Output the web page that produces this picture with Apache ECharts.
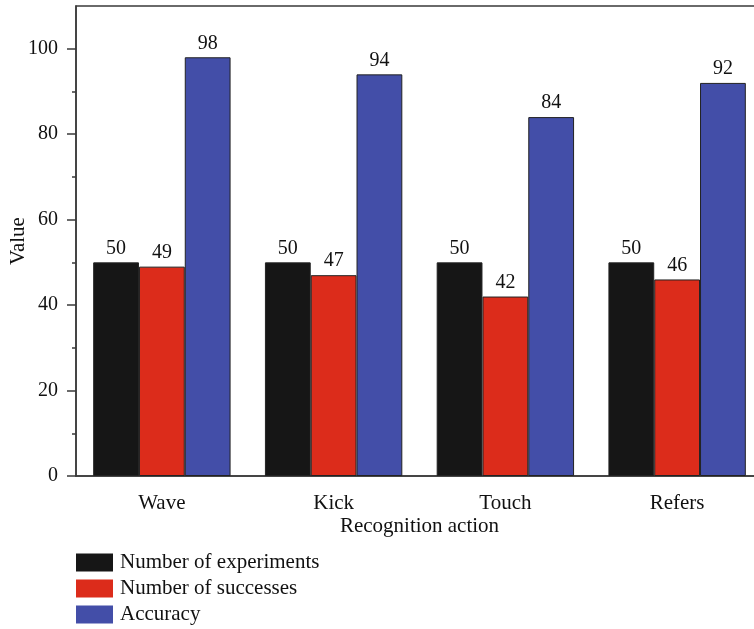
<!DOCTYPE html>
<html>
<head>
<meta charset="utf-8">
<script src="https://cdn.jsdelivr.net/npm/echarts@6/dist/echarts.min.js"></script>
<style>
  html, body { margin: 0; padding: 0; background: #fff; }
  #chart { width: 754px; height: 629px; }
</style>
</head>
<body>
<div id="chart"></div>
<script>
// Recognition results per action
const categories = ['Wave', 'Kick', 'Touch', 'Refers'];
const experiments = [50, 50, 50, 50];
const successes = [49, 47, 42, 46];
const accuracy = [98, 94, 84, 92];

// Y axis tick positions
const majorTicks = [0, 20, 40, 60, 80, 100];
const minorTicks = [10, 30, 50, 70, 90];

const FONT = '"Liberation Serif", "DejaVu Serif", serif';
const AXIS_COLOR = '#3a3a3a';
const TEXT_COLOR = '#111';

const chart = echarts.init(document.getElementById('chart'), null, { renderer: 'canvas' });

function barSeries(name, data, color) {
  return {
    name: name,
    type: 'bar',
    data: data,
    barGap: '0%',
    barCategoryGap: '20%',
    itemStyle: { color: color, borderColor: '#222', borderWidth: 1 },
    label: {
      show: true,
      position: 'top',
      distance: 4,
      color: TEXT_COLOR,
      fontFamily: FONT,
      fontSize: 20
    }
  };
}

chart.setOption({
  animation: false,
  backgroundColor: '#fff',
  textStyle: { fontFamily: FONT },
  grid: {
    left: 76, top: 6, right: -9, bottom: 153,
    show: true, borderColor: AXIS_COLOR, borderWidth: 1.5,
    containLabel: false,
    outerBoundsMode: 'none'
  },
  legend: {
    orient: 'vertical',
    left: 76,
    top: 552,
    padding: 0,
    itemWidth: 37,
    itemHeight: 18,
    itemGap: 5,
    icon: 'rect',
    itemStyle: { borderWidth: 0 },
    textStyle: { fontFamily: FONT, fontSize: 21, color: TEXT_COLOR, padding: [0, 0, 0, 2] },
    data: ['Number of experiments', 'Number of successes', 'Accuracy']
  },
  xAxis: [
    {
      type: 'category',
      data: categories,
      name: 'Recognition action',
      nameLocation: 'middle',
      nameGap: 40,
      nameMoveOverlap: false,
      nameTextStyle: { fontFamily: FONT, fontSize: 21, color: TEXT_COLOR },
      axisLine: { lineStyle: { color: AXIS_COLOR, width: 1.5 } },
      axisTick: { alignWithLabel: true, length: 8, lineStyle: { color: AXIS_COLOR, width: 1.5 } },
      axisLabel: { fontFamily: FONT, fontSize: 21, color: TEXT_COLOR, margin: 17 }
    },
    {
      type: 'category',
      data: categories,
      position: 'bottom',
      axisLine: { show: false },
      axisTick: { length: 3, lineStyle: { color: AXIS_COLOR, width: 1.5 } },
      axisLabel: { show: false }
    }
  ],
  yAxis: [
    {
      type: 'value',
      min: 0,
      max: 110,
      interval: 20,
      name: 'Value',
      nameLocation: 'middle',
      nameGap: 47,
      nameMoveOverlap: false,
      nameRotate: 90,
      nameTextStyle: { fontFamily: FONT, fontSize: 21, color: TEXT_COLOR },
      splitLine: { show: false },
      axisLine: { show: true, lineStyle: { color: AXIS_COLOR, width: 1.5 } },
      axisTick: { show: true, length: 9, customValues: majorTicks, lineStyle: { color: AXIS_COLOR, width: 1.5 } },
      axisLabel: { fontFamily: FONT, fontSize: 20, color: TEXT_COLOR, margin: 18, customValues: majorTicks }
    },
    {
      type: 'value',
      min: 0,
      max: 110,
      interval: 10,
      position: 'left',
      splitLine: { show: false },
      axisLine: { show: false },
      axisTick: { show: true, length: 4, customValues: minorTicks, lineStyle: { color: AXIS_COLOR, width: 1.5 } },
      axisLabel: { show: false }
    }
  ],
  series: [
    barSeries('Number of experiments', experiments, '#161616'),
    barSeries('Number of successes', successes, '#dc2c1b'),
    barSeries('Accuracy', accuracy, '#434ea8')
  ]
});
</script>
</body>
</html>
